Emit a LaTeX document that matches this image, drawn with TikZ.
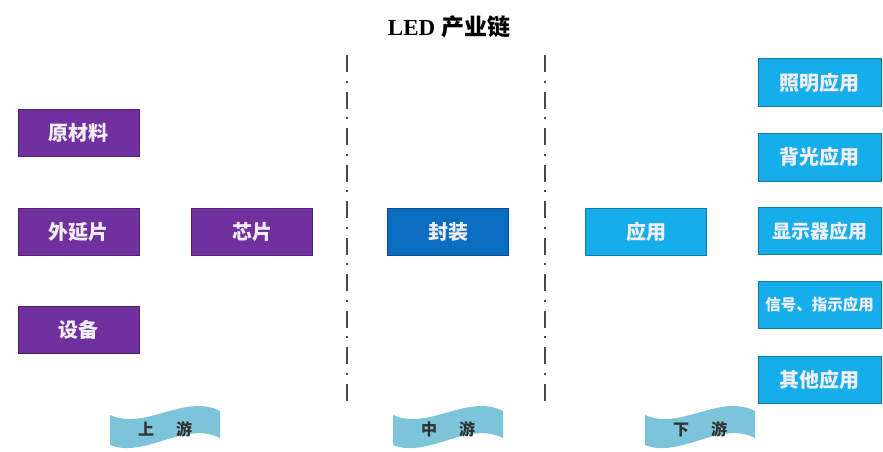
\documentclass[tikz,border=0pt]{standalone}
\usepackage{fontspec}
\setmainfont{Liberation Serif}
\newfontfamily\cjk{Noto Sans CJK SC}
\usetikzlibrary{calc}
\definecolor{upurple}{HTML}{7030A0}
\definecolor{pkgblue}{HTML}{0A6DC0}
\definecolor{appblue}{HTML}{16AEEA}
\definecolor{bannerblue}{HTML}{7CC4DA}
\definecolor{boxtext}{HTML}{F2EEF4}
\definecolor{sepgray}{HTML}{4A4A4A}
\tikzset{
  box/.style={draw=#1!70!black, line width=0.8pt, fill=#1, minimum width=121pt, minimum height=47pt,
    inner sep=0pt, text=boxtext, font=\cjk\bfseries\fontsize{20}{20}\selectfont},
  sepline/.style={draw=sepgray, line width=1.8pt, dash pattern=on 17pt off 8.5pt on 2pt off 9pt},
  bannertext/.style={text=black!80, font=\cjk\bfseries\fontsize{16}{16}\selectfont},
  banner/.style={fill=bannerblue},
}
\begin{document}
\begin{tikzpicture}[x=1pt,y=-1pt]
\useasboundingbox (0,0) rectangle (883,451);
% title
\node (title) at (449,27) {\fontsize{23}{23}\selectfont\bfseries LED {\cjk 产业链}};
% separators
\coordinate (s1t) at (347,55); \coordinate (s1b) at (347,405);
\coordinate (s2t) at (545,55); \coordinate (s2b) at (545,405);
\draw[sepline] (s1t) -- (s1b);
\draw[sepline] (s2t) -- (s2b);
% upstream
\node[box=upurple] (raw) at (78.5,132.5) {原材料};
\node[box=upurple] (epi) at (78.5,231.5) {外延片};
\node[box=upurple] (equip) at (78.5,330) {设备};
\node[box=upurple] (chip) at (252,231.5) {芯片};
% midstream
\node[box=pkgblue] (pkg) at (448,231.5) {封装};
% downstream
\node[box=appblue] (app) at (646,231.5) {应用};
\node[box=appblue, minimum width=123pt, minimum height=48pt] (light) at (819.5,82.5) {照明应用};
\node[box=appblue, minimum width=123pt, minimum height=48pt] (back) at (819.5,157) {背光应用};
\node[box=appblue, minimum width=123pt, minimum height=47pt, font=\cjk\bfseries\fontsize{19}{19}\selectfont] (disp) at (819.5,231) {显示器应用};
\node[box=appblue, minimum width=123pt, minimum height=47pt, font=\cjk\bfseries\fontsize{15.5}{15.5}\selectfont] (sig) at (819.5,305) {信号、指示应用};
\node[box=appblue, minimum width=123pt, minimum height=47pt] (other) at (819.5,380) {其他应用};
% banners
\coordinate (b1) at (165,429);
\coordinate (b2) at (448,429);
\coordinate (b3) at (700,429);
\foreach \b in {b1,b2,b3}{
  \fill[banner] ($(\b)+(-55,-14)$) .. controls ($(\b)+(-20,2)$) and ($(\b)+(20,-36)$) .. ($(\b)+(55,-18)$)
    -- ($(\b)+(55,9)$) .. controls ($(\b)+(20,-9)$) and ($(\b)+(-20,30)$) .. ($(\b)+(-55,16)$) -- cycle;
}
\node[bannertext] (up) at (b1) {上\hspace{22pt}游};
\node[bannertext] (mid) at (b2) {中\hspace{22pt}游};
\node[bannertext] (down) at (b3) {下\hspace{22pt}游};
\end{tikzpicture}
\end{document}
